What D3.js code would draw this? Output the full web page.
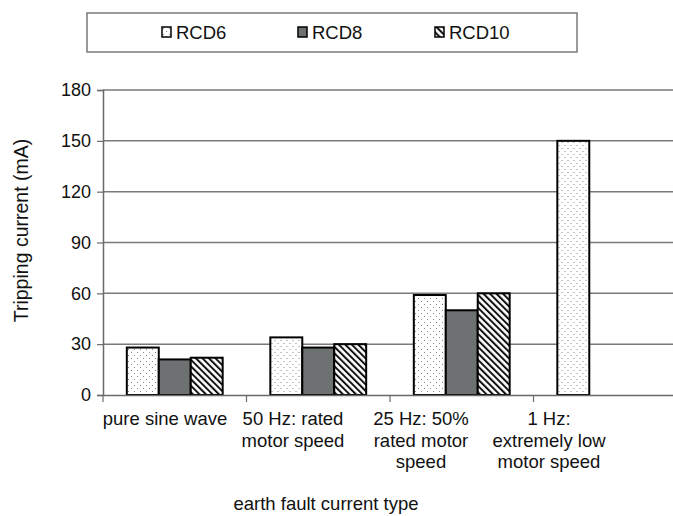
<!DOCTYPE html>
<html><head><meta charset="utf-8">
<script src="https://cdn.jsdelivr.net/npm/d3@7"></script>
<style>body{margin:0;background:#fff}svg{display:block;font-family:"Liberation Sans",Arial,sans-serif}</style>
</head><body>
<svg id="c" width="673" height="516"></svg>
<script>
const categories = ["pure sine wave", "50 Hz: rated motor speed", "25 Hz: 50% rated motor speed", "1 Hz: extremely low motor speed"];
const categoryLines = [["pure sine wave"], ["50 Hz: rated", "motor speed"], ["25 Hz: 50%", "rated motor", "speed"], ["1 Hz:", "extremely low", "motor speed"]];
const seriesNames = ["RCD6", "RCD8", "RCD10"];
const rcd6 = [28, 34, 59, 150];
const rcd8 = [21, 28, 50, null];
const rcd10 = [22, 30, 60, null];
const yTicks = [0, 30, 60, 90, 120, 150, 180];
const yTitle = "Tripping current (mA)";
const xTitle = "earth fault current type";

(function(){
const seriesValues = [rcd6, rcd8, rcd10];
const svg = d3.select("#c");
const defs = svg.append("defs");
const pd = defs.append("pattern").attr("id","dots").attr("patternUnits","userSpaceOnUse").attr("width",6).attr("height",6);
pd.append("rect").attr("width",6).attr("height",6).attr("fill","#fff");
pd.append("rect").attr("x",1).attr("y",1).attr("width",1).attr("height",1).attr("fill","#888");
pd.append("rect").attr("x",4).attr("y",4).attr("width",1).attr("height",1).attr("fill","#888");
const ps = defs.append("pattern").attr("id","stripes").attr("patternUnits","userSpaceOnUse").attr("width",4.6).attr("height",4.6).attr("patternTransform","rotate(-45)");
ps.append("rect").attr("width",4.6).attr("height",4.6).attr("fill","#fff");
ps.append("rect").attr("x",0).attr("y",0).attr("width",2).attr("height",4.6).attr("fill","#111");
const fills = ["url(#dots)", "#6e7171", "url(#stripes)"];

const pL = 103, pR = 677, pT = 90, pB = 395;
const y = d3.scaleLinear().domain([0,180]).range([pB, pT]);
const x0 = d3.scaleBand().domain(categories).range([pL, pR]).padding(0);
const inset = x0.bandwidth()*0.166;
const x1 = d3.scaleBand().domain(seriesNames).range([inset, x0.bandwidth()-inset]).padding(0);

svg.append("g").selectAll("line").data(yTicks.filter(t=>t>0)).join("line")
  .attr("x1", pL).attr("x2", pR).attr("y1", d=>y(d)).attr("y2", d=>y(d))
  .attr("stroke","#7a7a7a").attr("stroke-width",1.5);

const ya = svg.append("g").attr("transform",`translate(${pL},0)`)
  .call(d3.axisLeft(y).tickValues(yTicks).tickSize(6).tickPadding(6));
ya.select(".domain").attr("stroke","#6a6a6a").attr("stroke-width",1.5);
ya.selectAll(".tick line").attr("stroke","#6a6a6a").attr("stroke-width",1.2);
ya.selectAll(".tick text").attr("font-size",18).attr("fill","#111").attr("font-family","Liberation Sans, Arial, sans-serif");

const groups = svg.append("g").selectAll("g").data(categories).join("g")
  .attr("transform", d=>`translate(${x0(d)},0)`);
groups.selectAll("rect").data((d,i)=>seriesNames.map((s,j)=>({s, j, v: seriesValues[j][i]})).filter(e=>e.v!=null)).join("rect")
  .attr("x", e=>x1(e.s)).attr("width", x1.bandwidth())
  .attr("y", e=>y(e.v)).attr("height", e=>y(0)-y(e.v))
  .attr("fill", e=>fills[e.j]).attr("stroke","#000").attr("stroke-width",2);

const xa = svg.append("g").attr("transform",`translate(0,${pB})`)
  .call(d3.axisBottom(x0).tickSize(0).tickFormat(""));
xa.select(".domain").attr("stroke","#6a6a6a").attr("stroke-width",1.5);
xa.selectAll(".tick").remove();
const tickPos = categories.map(c=>x0(c)).concat([pR]);
xa.selectAll("line.cat").data(tickPos).join("line").attr("class","cat")
  .attr("x1",d=>d).attr("x2",d=>d).attr("y1",0).attr("y2",7).attr("stroke","#6a6a6a").attr("stroke-width",1.2);

const xl = d3.scaleBand().domain(categories).range([101, 613]);
const lab = svg.append("g").attr("font-size",18.5).attr("fill","#111");
categories.forEach((c,i)=>{
  categoryLines[i].forEach((ln,k)=>{
    lab.append("text").attr("x", xl(c)+xl.bandwidth()/2).attr("y", 425 + k*21.5)
      .attr("text-anchor","middle").text(ln);
  });
});

svg.append("text").attr("x",326).attr("y",510).attr("text-anchor","middle").attr("font-size",18.5).attr("fill","#111").text(xTitle);
svg.append("text").attr("transform",`translate(28,${(pT+pB)/2-12}) rotate(-90)`).attr("text-anchor","middle").attr("font-size",19.5).attr("fill","#111").text(yTitle);

svg.append("rect").attr("x",87).attr("y",13).attr("width",490).attr("height",39).attr("fill","#fff").attr("stroke","#7a7a7a").attr("stroke-width",1.5);
const legX = [162, 298, 435];
const lg = svg.append("g").selectAll("g").data(seriesNames).join("g").attr("transform",(d,i)=>`translate(${legX[i]},27)`);
lg.append("rect").attr("width",9).attr("height",10).attr("fill",(d,i)=>fills[i]).attr("stroke","#000").attr("stroke-width",1.5);
lg.append("text").attr("x",14).attr("y",11.5).attr("font-size",18.5).attr("fill","#111").text(d=>d);
})();
</script>
</body></html>
